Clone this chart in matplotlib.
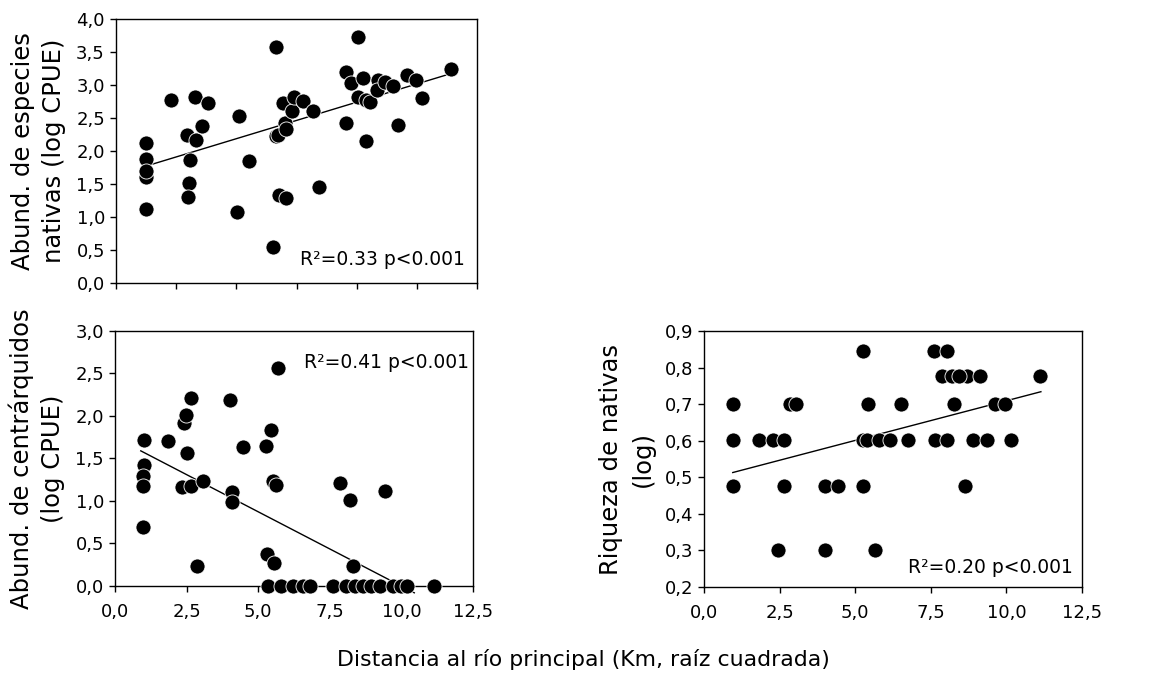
import numpy as np
import matplotlib
matplotlib.use("Agg")
import matplotlib.pyplot as plt
from matplotlib.ticker import FuncFormatter

# --- datos: panel superior (abundancia de especies nativas) ---
nat_x = [1.03, 1.03, 1.03, 1.03, 1.03, 1.90, 2.45, 2.73, 2.77, 2.99, 3.19, 2.56, 2.54, 2.50,
         4.26, 4.18, 4.61, 5.54, 5.44, 5.54, 5.62, 5.77, 5.85, 5.88, 6.08, 6.17, 6.48, 6.83,
         5.65, 5.88, 7.02, 7.98, 7.98, 8.15, 8.39, 8.39, 8.56, 8.67, 8.79, 8.67, 9.08, 9.05,
         9.31, 9.60, 9.77, 10.06, 10.40, 10.61, 11.61]
nat_y = [2.12, 1.88, 1.61, 1.69, 1.12, 2.77, 2.24, 2.82, 2.17, 2.38, 2.72, 1.87, 1.52, 1.31,
         2.53, 1.07, 1.85, 3.58, 0.55, 2.23, 2.24, 2.72, 2.42, 2.33, 2.60, 2.82, 2.75, 2.61,
         1.34, 1.29, 1.45, 3.20, 2.43, 3.03, 3.73, 2.82, 3.10, 2.77, 2.74, 2.15, 3.08, 2.92,
         3.05, 2.98, 2.40, 3.15, 3.08, 2.81, 3.24]
nat_fit_x = [1.03, 11.5]
nat_fit_y = [1.77, 3.16]

# --- panel inferior izquierdo (centrárquidos) ---
cen_x = [1.01, 1.01, 0.99, 0.99, 0.99, 1.86, 2.33, 2.42, 2.47, 2.52, 2.67, 2.67, 2.87, 3.08,
         4.01, 4.07, 4.07, 4.48, 5.26, 5.43, 5.52, 5.62, 5.70, 5.29, 5.56, 7.85, 8.20, 9.42,
         8.31, 5.35, 5.81, 6.20, 6.57, 6.80, 7.62, 8.08, 8.37, 8.66, 8.95, 9.24, 9.71, 10.0,
         10.2, 11.13]
cen_y = [1.72, 1.42, 1.29, 1.18, 0.69, 1.70, 1.17, 1.92, 2.01, 1.56, 2.21, 1.18, 0.24, 1.23,
         2.19, 1.11, 0.99, 1.63, 1.65, 1.83, 1.23, 1.19, 2.56, 0.38, 0.27, 1.21, 1.01, 1.12,
         0.23, 0, 0, 0, 0, 0, 0, 0, 0, 0, 0, 0, 0, 0,
         0, 0]
cen_fit_x = [0.9, 10.45]
cen_fit_y = [1.59, -0.08]

# --- panel inferior derecho (riqueza de nativas) ---
riq_x = [0.97, 0.97, 0.97, 1.82, 2.29, 2.65, 2.63, 2.44, 2.85, 3.05, 4.00, 4.42, 4.00, 5.25,
         5.27, 5.41, 5.27, 5.38, 5.66, 5.77, 6.16, 6.51, 6.74, 7.61, 8.03, 7.87, 8.20, 8.69,
         9.14, 8.25, 7.65, 8.03, 8.64, 8.91, 9.36, 9.63, 9.96, 10.15, 11.12, 8.42]
riq_y = [0.70, 0.602, 0.477, 0.602, 0.602, 0.602, 0.477, 0.301, 0.70, 0.70, 0.477, 0.477,
         0.301, 0.477, 0.845, 0.70, 0.602, 0.602, 0.301, 0.602, 0.602, 0.70, 0.602, 0.845,
         0.845, 0.778, 0.778, 0.778, 0.778, 0.70, 0.602, 0.602, 0.477, 0.602, 0.602, 0.70,
         0.70, 0.602, 0.778, 0.778]
riq_fit_x = [0.95, 11.14]
riq_fit_y = [0.513, 0.734]

plt.rcParams['font.family'] = ['DejaVu Sans']

coma = FuncFormatter(lambda v, p: f"{v:.1f}".replace('.', ','))


def panel(ax, x, y, fx, fy, ylim, ystep, ylabel, texto, tpos, xlabels=True, clip=True):
    ax.scatter(x, y, s=118, color='black', edgecolor='white', linewidth=0.6, zorder=3,
               clip_on=False)
    ax.plot(fx, fy, color='black', lw=1.0, zorder=2, clip_on=clip)
    ax.set_xlim(0, 12.5)
    ax.set_ylim(*ylim)
    ax.set_yticks(np.arange(ylim[0], ylim[1] + ystep / 2, ystep))
    ax.yaxis.set_major_formatter(coma)
    if xlabels:
        ax.set_xticks(np.arange(0, 12.6, 2.5))
        ax.xaxis.set_major_formatter(coma)
    else:
        # eje superior: marcas sin etiquetas
        ax.set_xticks(np.linspace(0, 12.5, 7))
        ax.set_xticklabels([])
    ax.tick_params(direction='out', length=4, width=1, labelsize=13)
    ax.tick_params(axis='x', pad=8)
    ax.tick_params(axis='y', pad=4)
    for s in ax.spines.values():
        s.set_linewidth(1.0)
    ax.set_ylabel(ylabel, fontsize=17.5, linespacing=1.4, labelpad=7)
    ax.text(tpos[0], tpos[1], texto, transform=ax.transAxes, ha='right', va='center',
            fontsize=13.5)


fig = plt.figure(figsize=(11.5, 6.78), dpi=100)
ax1 = fig.add_axes([0.1009, 0.5826, 0.3139, 0.3894])
ax2 = fig.add_axes([0.1, 0.1357, 0.3113, 0.3761])
ax3 = fig.add_axes([0.6122, 0.1342, 0.3287, 0.3776])

panel(ax1, nat_x, nat_y, nat_fit_x, nat_fit_y, (0, 4.0), 0.5,
      "Abund. de especies\nnativas (log CPUE)", "R²=0.33 p<0.001", (0.965, 0.09),
      xlabels=False)
panel(ax2, cen_x, cen_y, cen_fit_x, cen_fit_y, (0, 3.0), 0.5,
      "Abund. de centrárquidos\n(log CPUE)", "R²=0.41 p<0.001", (0.99, 0.875), clip=False)
panel(ax3, riq_x, riq_y, riq_fit_x, riq_fit_y, (0.2, 0.9), 0.1,
      "Riqueza de nativas\n(log)", "R²=0.20 p<0.001", (0.975, 0.075))

fig.text(0.507, 0.027, "Distancia al río principal (Km, raíz cuadrada)", ha='center',
         va='center', fontsize=15.8)

fig.savefig("out.png", dpi=100)
